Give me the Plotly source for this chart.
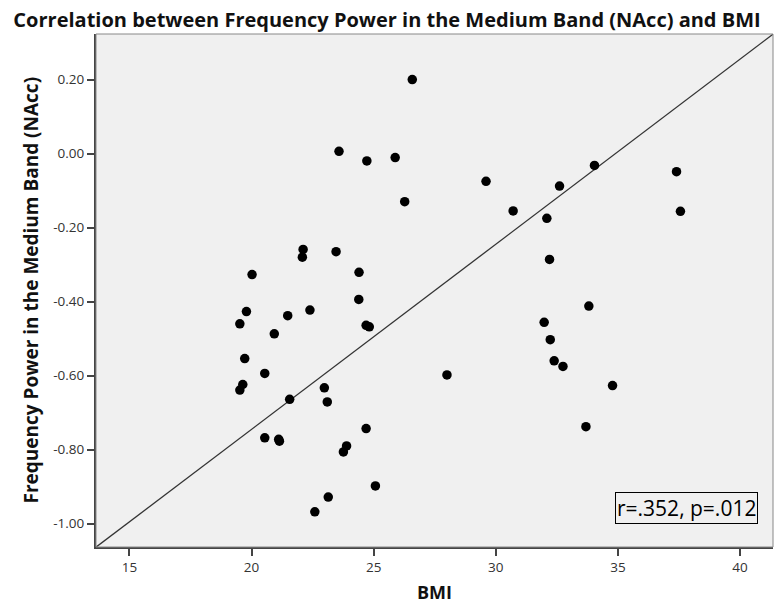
import plotly.graph_objects as go

# ---- data ----
bmi = [23.58, 24.72, 26.58, 25.88, 26.27, 22.11, 22.08, 23.46, 24.40, 20.02,
       24.39, 19.79, 21.48, 22.39, 19.52, 20.93, 24.69, 24.82, 19.72, 20.54,
       19.64, 19.52, 21.56, 22.98, 23.10, 20.54, 21.11, 21.14, 24.69, 23.89,
       23.76, 25.07, 23.14, 22.59, 29.60, 30.71, 34.04, 32.61, 32.09, 32.20,
       37.40, 37.56, 33.81, 31.98, 32.23, 32.39, 32.75, 28.00, 34.78, 33.69]
power = [0.006, -0.020, 0.200, -0.011, -0.130, -0.259, -0.280, -0.265, -0.321, -0.327,
         -0.394, -0.427, -0.438, -0.423, -0.460, -0.487, -0.464, -0.468, -0.554, -0.594,
         -0.624, -0.639, -0.664, -0.633, -0.671, -0.768, -0.772, -0.777, -0.743, -0.790,
         -0.806, -0.898, -0.928, -0.968, -0.075, -0.155, -0.032, -0.088, -0.175, -0.286,
         -0.049, -0.156, -0.412, -0.456, -0.503, -0.560, -0.575, -0.598, -0.627, -0.738]

fit_slope = 0.05
fit_intercept = -1.745

x_range = [13.63, 41.35]
y_range = [-1.063, 0.323]
x_ticks = [15, 20, 25, 30, 35, 40]
y_ticks = [-1.0, -0.8, -0.6, -0.4, -0.2, 0.0, 0.2]
y_tick_labels = ["-1.00", "-0.80", "-0.60", "-0.40", "-0.20", "0.00", "0.20"]

title_text = "Correlation between Frequency Power in the Medium Band (NAcc) and BMI"
x_title = "BMI"
y_title = "Frequency Power in the Medium Band (NAcc)"
stat_text = "r=.352, p=.012"

FONT = "Open Sans"

fig = go.Figure()
fig.add_trace(go.Scatter(
    x=x_range,
    y=[fit_intercept + fit_slope * v for v in x_range],
    mode="lines", line=dict(color="#333333", width=1.3),
    hoverinfo="skip", showlegend=False))
fig.add_trace(go.Scatter(
    x=bmi, y=power, mode="markers",
    marker=dict(color="black", size=9.5, line=dict(width=0)),
    showlegend=False))

axis_common = dict(
    showgrid=False, zeroline=False, showline=True, linecolor="#444444", linewidth=2,
    ticks="outside", ticklen=7, tickwidth=2, tickcolor="#444444",
    tickfont=dict(family=FONT, size=13.5, color="#333333"))

fig.update_xaxes(range=x_range, tickmode="array", tickvals=x_ticks,
                 ticktext=[str(v) for v in x_ticks], **axis_common)
fig.update_yaxes(range=y_range, tickmode="array", tickvals=y_ticks,
                 ticktext=y_tick_labels, **axis_common)

fig.update_layout(
    width=774, height=605,
    margin=dict(l=96, r=1, t=34, b=58, pad=0),
    paper_bgcolor="white", plot_bgcolor="#f0f0f0",
    title=dict(text="<b>" + title_text + "</b>", x=0.5, xanchor="center",
               y=1 - 20 / 605, yanchor="middle", yref="container",
               font=dict(family=FONT, size=20, color="#111111")),
    shapes=[dict(type="rect", xref="paper", yref="paper", x0=0, x1=1, y0=0, y1=1,
                 line=dict(color="#888888", width=1), layer="above")],
    annotations=[
        dict(text="<b>" + x_title + "</b>", xref="paper", yref="paper",
             x=0.5, y=0, xanchor="center", yanchor="middle", yshift=-45,
             showarrow=False, font=dict(family=FONT, size=18, color="#111111")),
        dict(text="<b>" + y_title + "</b>", xref="paper", yref="paper",
             x=0, y=0.5, xanchor="center", yanchor="middle", xshift=-66,
             textangle=-90, showarrow=False,
             font=dict(family=FONT, size=19, color="#111111")),
        dict(text=stat_text, xref="paper", yref="paper", x=1, y=0,
             xanchor="right", yanchor="bottom", xshift=-15, yshift=23,
             showarrow=False, bordercolor="black", borderwidth=1, borderpad=1,
             bgcolor="#f0f0f0",
             font=dict(family=FONT, size=21, color="black")),
    ],
)

fig.write_html("out.html", config={"displayModeBar": False},
               post_script="document.body.style.margin='0';document.body.style.overflow='hidden';")
